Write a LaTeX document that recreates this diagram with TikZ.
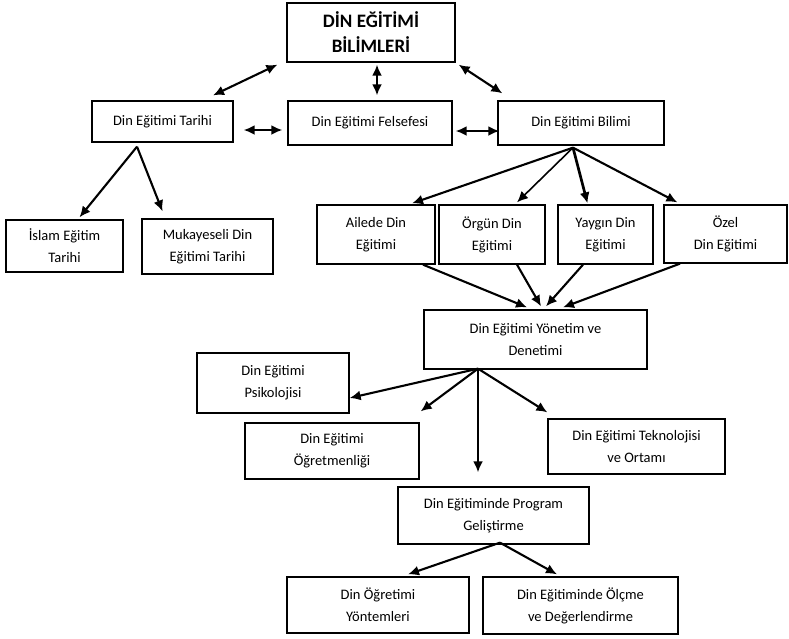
\documentclass[tikz,border=0pt]{standalone}
\usepackage{fontspec}
\setmainfont{Carlito}
\usetikzlibrary{calc,arrows.meta}
\tikzset{
  box/.style={draw, line width=1.3pt, inner sep=0pt, align=center, anchor=center,
    font=\fontsize{14.5}{22}\selectfont},
  titlebox/.style={box, font=\bfseries\fontsize{19}{25}\selectfont},
  arr/.style={line width=2.1pt, -{Latex[length=11pt,width=10pt]}},
  darr/.style={line width=2.1pt, {Latex[length=11pt,width=10pt]}-{Latex[length=11pt,width=10pt]}}
}
\begin{document}
\begin{tikzpicture}[x=1pt,y=-1pt]
\useasboundingbox (0,0) rectangle (789,638);
% nodes
\node[titlebox, minimum width=168, minimum height=59] (top) at (371,32.5) {DİN EĞİTİMİ\\BİLİMLERİ};
\node[box, minimum width=141, minimum height=41] (tarihi) at (162.5,121.5) {Din Eğitimi Tarihi};
\node[box, minimum width=164, minimum height=44] (felsefe) at (370,123) {Din Eğitimi Felsefesi};
\node[box, minimum width=166, minimum height=44] (bilimi) at (581,123) {Din Eğitimi Bilimi};
\node[box, minimum width=117, minimum height=52] (islam) at (64.5,246) {İslam Eğitim\\Tarihi};
\node[box, minimum width=131, minimum height=55] (mukayese) at (207.5,246.5) {Mukayeseli Din\\Eğitimi Tarihi};
\node[box, minimum width=118, minimum height=59] (ailede) at (376,234.5) {Ailede Din\\Eğitimi};
\node[box, minimum width=106, minimum height=59] (orgun) at (492,234.5) {Örgün Din\\Eğitimi};
\node[box, minimum width=95, minimum height=59] (yaygin) at (605.5,234.5) {Yaygın Din\\Eğitimi};
\node[box, minimum width=123, minimum height=58] (ozel) at (725.5,234) {Özel\\Din Eğitimi};
\node[box, minimum width=223, minimum height=59] (yonetim) at (535.5,339.5) {Din Eğitimi Yönetim ve\\Denetimi};
\node[box, minimum width=152, minimum height=60] (psiko) at (273,383) {Din Eğitimi\\Psikolojisi};
\node[box, minimum width=174, minimum height=56] (ogretmen) at (332,451) {Din Eğitimi\\Öğretmenliği};
\node[box, minimum width=177, minimum height=55] (tekno) at (636.5,446.5) {Din Eğitimi Teknolojisi\\ve Ortamı};
\node[box, minimum width=191, minimum height=57] (program) at (493.5,515.5) {Din Eğitiminde Program\\Geliştirme};
\node[box, minimum width=182, minimum height=56] (yontem) at (378,605) {Din Öğretimi\\Yöntemleri};
\node[box, minimum width=195, minimum height=57] (olcme) at (580.5,605.5) {Din Eğitiminde Ölçme\\ve Değerlendirme};
% connectors: top level
\draw[darr] ($(top.south west)+(-9,2)$) -- ($(tarihi.north)+(50.5,-5)$);
\draw[darr] ($(top.south)+(6,2)$) -- ($(felsefe.north)+(7,-5)$);
\draw[darr] ($(top.south east)+(3,2)$) -- ($(bilimi.north west)+(5,-7)$);
\draw[darr] ($(tarihi.east)+(10,8.5)$) -- ($(felsefe.west)+(-5,7)$);
\draw[darr] ($(felsefe.east)+(3,8)$) -- ($(bilimi.west)+(2,8)$);
% tarihi
\coordinate (ta) at ($(tarihi.south)+(-25.5,4)$);
\draw[arr] (ta) -- ($(islam.north)+(15,-2)$);
\draw[arr] (ta) -- ($(mukayese.north)+(-45,-7)$);
% bilimi
\coordinate (ba) at ($(bilimi.south)+(-8,2)$);
\draw[arr] (ba) -- ($(ailede.north)+(36,-1)$);
\draw[arr, line width=1.6pt] (ba) -- ($(orgun.north)+(25,-2)$);
\draw[arr, line width=2.7pt] (ba) -- ($(yaygin.north)+(-18,-1)$);
\draw[arr] (ba) -- ($(ozel.north west)+(14,-2)$);
% to yonetim
\draw[arr] ($(ailede.south)+(47,0)$) -- ($(yonetim.north)+(-8.5,-2)$);
\draw[arr] ($(orgun.south)+(25,0)$) -- ($(yonetim.north)+(5.5,-3)$);
\draw[arr] ($(yaygin.south)+(-22.5,0)$) -- ($(yonetim.north)+(10.5,-3)$);
\draw[arr] ($(ozel.south)+(-45.5,0)$) -- ($(yonetim.north)+(27.5,-2)$);
% from yonetim
\coordinate (ya) at ($(yonetim.south)+(-57.5,-1)$);
\draw[arr] (ya) -- ($(psiko.east)+(0,15)$);
\draw[arr] (ya) -- ($(ogretmen.north east)+(1,-11)$);
\draw[arr] (ya) -- ($(program.north)+(-15.5,-14)$);
\draw[arr] (ya) -- ($(tekno.north west)+(0,-6)$);
% from program
\coordinate (pa) at ($(program.south)+(6.5,-2)$);
\draw[arr] (pa) -- ($(yontem.north)+(30,-2)$);
\draw[arr] (pa) -- ($(olcme.north)+(-23.5,-2)$);
\end{tikzpicture}
\end{document}
